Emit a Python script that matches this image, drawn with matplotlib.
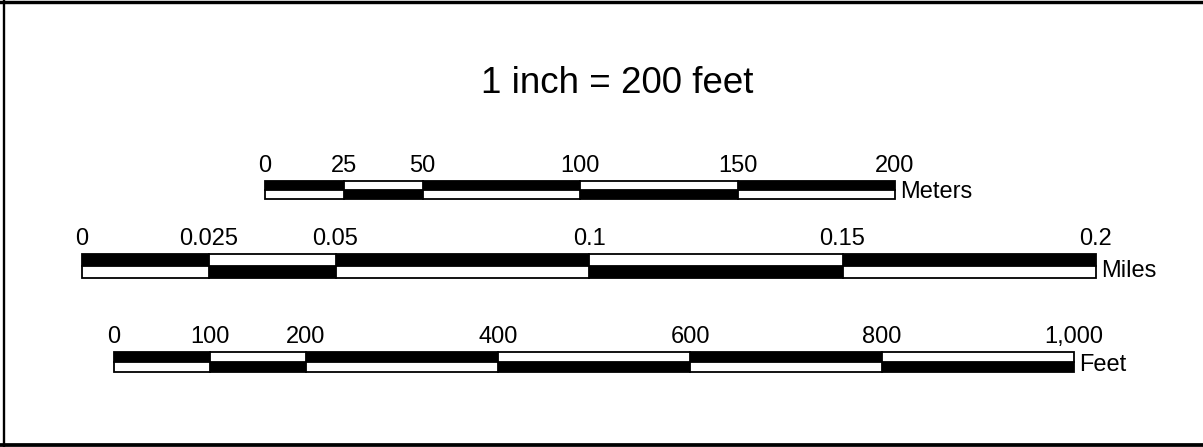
import matplotlib
matplotlib.use('Agg')
import matplotlib.pyplot as plt
from matplotlib.patches import Rectangle
from matplotlib.lines import Line2D

plt.rcParams['font.family'] = ['Liberation Sans', 'DejaVu Sans']

title = '1 inch = 200 feet'

meters_ticks = [0, 25, 50, 100, 150, 200]
meters_labels = ['0', '25', '50', '100', '150', '200']
miles_ticks = [0, 0.025, 0.05, 0.1, 0.15, 0.2]
miles_labels = ['0', '0.025', '0.05', '0.1', '0.15', '0.2']
feet_ticks = [0, 100, 200, 400, 600, 800, 1000]
feet_labels = ['0', '100', '200', '400', '600', '800', '1,000']

W, H = 1203, 447
fig = plt.figure(figsize=(W / 100, H / 100), dpi=100)


def scale_bar(rect_px, ticks, labels, unit):
    # rect_px: left, top, width, height in pixels
    left, top, width, height = rect_px
    ax = fig.add_axes([left / W, 1 - (top + height) / H, width / W, height / H])
    ax.set_xlim(ticks[0], ticks[-1])
    ax.set_ylim(0, 2)
    ax.axis('off')
    for i in range(len(ticks) - 1):
        x0, x1 = ticks[i], ticks[i + 1]
        upper = 'black' if i % 2 == 0 else 'white'
        lower = 'white' if i % 2 == 0 else 'black'
        for y, c in ((1, upper), (0, lower)):
            ax.add_patch(Rectangle((x0, y), x1 - x0, 1, fc=c, ec='black', lw=1.3,
                                   clip_on=False, zorder=3 if c == 'white' else 2))
    for t, lab in zip(ticks, labels):
        ax.annotate(lab, xy=(t, 2), xytext=(0, 6.5), textcoords='offset points',
                    ha='center', va='baseline', fontsize=17)
    ax.annotate(unit, xy=(1, 0), xycoords='axes fraction', xytext=(3.5, 0.7),
                textcoords='offset points', ha='left', va='baseline', fontsize=17)
    return ax


scale_bar((265, 181, 630, 18), meters_ticks, meters_labels, 'Meters')
scale_bar((82, 254, 1014, 24), miles_ticks, miles_labels, 'Miles')
scale_bar((114, 352, 960, 20), feet_ticks, feet_labels, 'Feet')

fig.text(617 / W, 1 - 93 / H, title, ha='center', va='baseline', fontsize=26.5)

# page frame (top, left, bottom)
fig.add_artist(Line2D([0, 1], [1 - 1.7 / H] * 2, lw=2.45, color='black'))
fig.add_artist(Line2D([4.4 / W] * 2, [0, 1], lw=1.7, color='black'))
fig.add_artist(Line2D([0, 1], [1.85 / H] * 2, lw=2.7, color='black'))

fig.savefig('out.png', dpi=100, facecolor='white')
